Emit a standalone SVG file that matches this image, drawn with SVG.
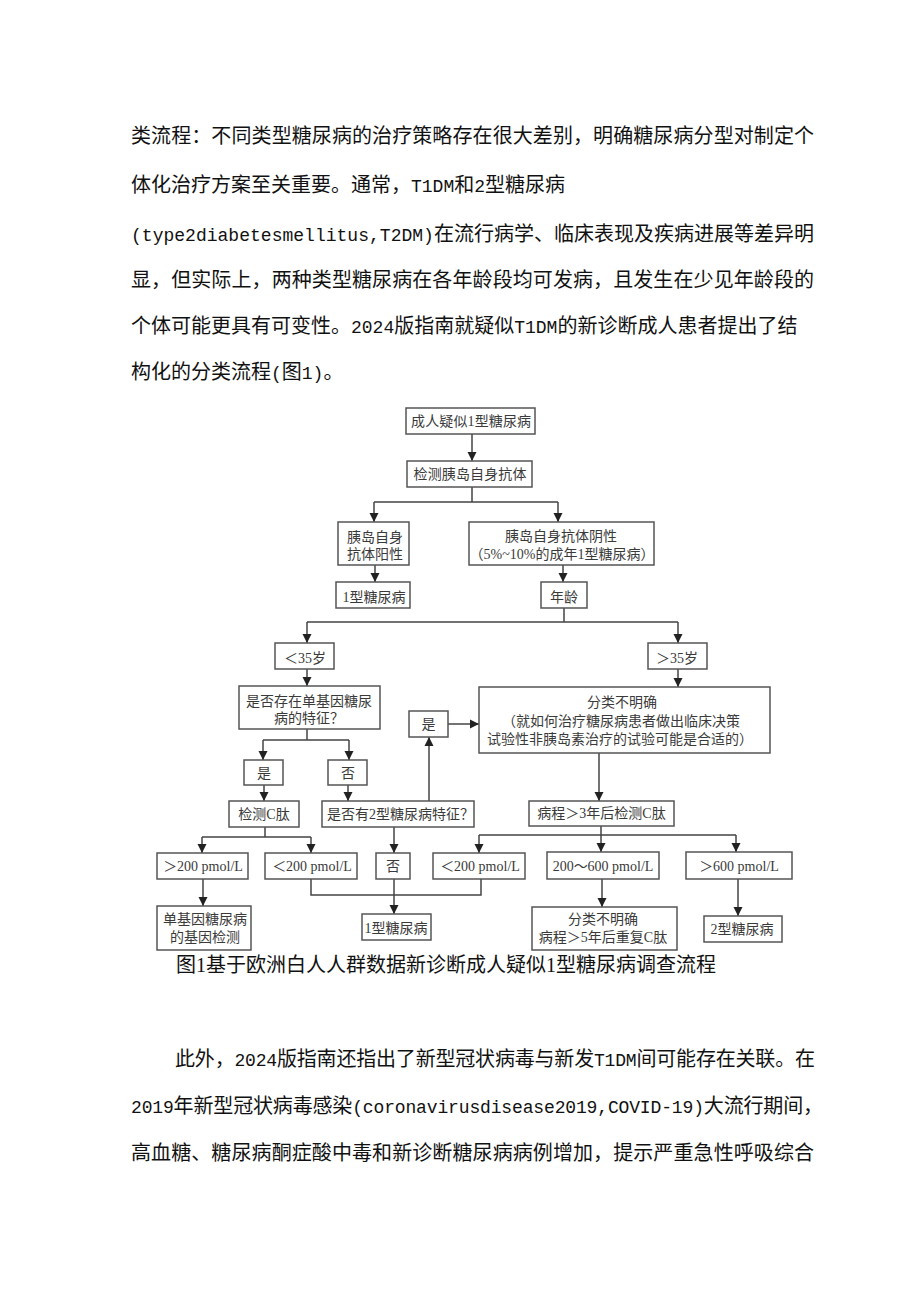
<svg xmlns="http://www.w3.org/2000/svg" width="920" height="1301" viewBox="0 0 920 1301">
<style>
.body{font-family:"Noto Sans CJK SC","Noto Sans",sans-serif;font-size:20px;fill:#111}
.a{font-family:"Liberation Mono",monospace;font-size:18px}
.cap{font-family:"Liberation Serif","Noto Sans CJK SC",serif;font-size:20px;fill:#111}
.box{fill:#fff;stroke:#555;stroke-width:1.5}
.t{font-family:"Liberation Serif","Noto Sans CJK SC",serif;font-size:14px;fill:#3a3a3a;text-anchor:middle}
.ts{font-family:"Liberation Serif","Noto Sans CJK SC",serif;font-size:14px;fill:#3a3a3a}
.c{fill:none;stroke:#444;stroke-width:1.5}
</style>
<defs>
<marker id="ah" markerWidth="10" markerHeight="10" refX="9" refY="5" orient="auto" markerUnits="userSpaceOnUse">
<path d="M0,0.5 L9,5 L0,9.5 z" fill="#222"/>
</marker>
</defs>
<rect width="920" height="1301" fill="#fff"/>

<g id="para1">
<text class="body" x="131" y="142.6" textLength="683">类流程：不同类型糖尿病的治疗策略存在很大差别，明确糖尿病分型对制定个</text>
<text class="body" x="131" y="191.6">体化治疗方案至关重要。通常，<tspan class="a">T1DM</tspan>和<tspan class="a">2</tspan>型糖尿病</text>
<text class="body" x="131" y="240.6" textLength="683"><tspan class="a">(type2diabetesmellitus,T2DM)</tspan>在流行病学、临床表现及疾病进展等差异明</text>
<text class="body" x="131" y="286.6" textLength="683">显，但实际上，两种类型糖尿病在各年龄段均可发病，且发生在少见年龄段的</text>
<text class="body" x="131" y="332.6">个体可能更具有可变性。<tspan class="a">2024</tspan>版指南就疑似<tspan class="a">T1DM</tspan>的新诊断成人患者提出了结</text>
<text class="body" x="131" y="378.6">构化的分类流程<tspan class="a">(</tspan>图<tspan class="a">1)</tspan>。</text>
</g>

<g id="connectors">
<path class="c" d="M472,434 V461" marker-end="url(#ah)"/>
<path class="c" d="M472,487 V502 M374,502 H558"/>
<path class="c" d="M374,502 V522" marker-end="url(#ah)"/>
<path class="c" d="M558,502 V522" marker-end="url(#ah)"/>
<path class="c" d="M375,565 V582" marker-end="url(#ah)"/>
<path class="c" d="M563,565 V582" marker-end="url(#ah)"/>
<path class="c" d="M564,608 V622 M307,622 H678"/>
<path class="c" d="M307,622 V643" marker-end="url(#ah)"/>
<path class="c" d="M678,622 V643" marker-end="url(#ah)"/>
<path class="c" d="M307,669 V686" marker-end="url(#ah)"/>
<path class="c" d="M678,669 V687" marker-end="url(#ah)"/>
<path class="c" d="M307,729 V740 M263,740 H349"/>
<path class="c" d="M263,740 V760" marker-end="url(#ah)"/>
<path class="c" d="M349,740 V760" marker-end="url(#ah)"/>
<path class="c" d="M264,785 V801" marker-end="url(#ah)"/>
<path class="c" d="M348,785 V801" marker-end="url(#ah)"/>
<path class="c" d="M429,801 V737" marker-end="url(#ah)"/>
<path class="c" d="M448,724 H479" marker-end="url(#ah)"/>
<path class="c" d="M599,753 V801" marker-end="url(#ah)"/>
<path class="c" d="M601,826 V835 M479,835 H736"/>
<path class="c" d="M479,835 V853" marker-end="url(#ah)"/>
<path class="c" d="M601,835 V852" marker-end="url(#ah)"/>
<path class="c" d="M736,835 V852" marker-end="url(#ah)"/>
<path class="c" d="M265,827 V837 M202,837 H311"/>
<path class="c" d="M202,837 V853" marker-end="url(#ah)"/>
<path class="c" d="M311,837 V853" marker-end="url(#ah)"/>
<path class="c" d="M394,827 V853" marker-end="url(#ah)"/>
<path class="c" d="M203,879 V906" marker-end="url(#ah)"/>
<path class="c" d="M311,879 V895 H481 V879"/>
<path class="c" d="M394,879 V914" marker-end="url(#ah)"/>
<path class="c" d="M602,879 V907" marker-end="url(#ah)"/>
<path class="c" d="M738,879 V916" marker-end="url(#ah)"/>
</g>

<g id="n-start"><rect class="box" x="406" y="408" width="129" height="26"/><text class="t" x="471" y="426" textLength="120">成人疑似1型糖尿病</text></g>
<g id="n-test"><rect class="box" x="407" y="461" width="125" height="26"/><text class="t" x="470" y="479" textLength="113">检测胰岛自身抗体</text></g>
<g id="n-pos"><rect class="box" x="338" y="522" width="71" height="43"/><text class="t" x="375" y="542">胰岛自身</text><text class="t" x="375" y="559">抗体阳性</text></g>
<g id="n-neg"><rect class="box" x="469" y="522" width="185" height="43"/><text class="t" x="561" y="541">胰岛自身抗体阴性</text><text class="t" x="562" y="559">（5%~10%的成年1型糖尿病）</text></g>
<g id="n-t1a"><rect class="box" x="336" y="582" width="74" height="26"/><text class="t" x="374" y="602">1型糖尿病</text></g>
<g id="n-age"><rect class="box" x="541" y="582" width="46" height="26"/><text class="t" x="564" y="602">年龄</text></g>
<g id="n-lt35"><rect class="box" x="275" y="643" width="59" height="26"/><text class="t" x="305" y="663">＜35岁</text></g>
<g id="n-gt35"><rect class="box" x="648" y="643" width="59" height="26"/><text class="t" x="677" y="663">＞35岁</text></g>
<g id="n-mono"><rect class="box" x="239" y="686" width="141" height="43"/><text class="t" x="309" y="706">是否存在单基因糖尿</text><text class="t" x="309" y="723">病的特征？</text></g>
<g id="n-unclear"><rect class="box" x="479" y="687" width="291" height="66"/><text class="t" x="622" y="707">分类不明确</text><text class="t" x="621" y="726">（就如何治疗糖尿病患者做出临床决策</text><text class="t" x="620" y="744">试验性非胰岛素治疗的试验可能是合适的）</text></g>
<g id="n-yes2"><rect class="box" x="409" y="711" width="39" height="26"/><text class="t" x="428.5" y="729">是</text></g>
<g id="n-yes1"><rect class="box" x="244" y="760" width="39" height="25"/><text class="t" x="264" y="778">是</text></g>
<g id="n-no1"><rect class="box" x="328" y="760" width="39" height="25"/><text class="t" x="348" y="778">否</text></g>
<g id="n-cpep1"><rect class="box" x="229" y="801" width="70" height="26"/><text class="t" x="264" y="819">检测C肽</text></g>
<g id="n-t2q"><rect class="box" x="322" y="801" width="152" height="26"/><text class="ts" x="327" y="819">是否有2型糖尿病特征？</text></g>
<g id="n-cpep2"><rect class="box" x="529" y="801" width="145" height="25"/><text class="t" x="601.5" y="818">病程＞3年后检测C肽</text></g>
<g id="n-gt200"><rect class="box" x="157" y="853" width="91" height="26"/><text class="t" x="203" y="871">＞200 pmol/L</text></g>
<g id="n-lt200a"><rect class="box" x="265" y="853" width="92" height="26"/><text class="t" x="312" y="871">＜200 pmol/L</text></g>
<g id="n-no2"><rect class="box" x="376" y="853" width="34" height="26"/><text class="t" x="393" y="871">否</text></g>
<g id="n-lt200b"><rect class="box" x="433" y="853" width="92" height="26"/><text class="t" x="480" y="871">＜200 pmol/L</text></g>
<g id="n-mid"><rect class="box" x="547" y="852" width="112" height="27"/><text class="t" x="603" y="871">200～600 pmol/L</text></g>
<g id="n-gt600"><rect class="box" x="686" y="852" width="106" height="27"/><text class="t" x="739" y="871">＞600 pmol/L</text></g>
<g id="n-gene"><rect class="box" x="157" y="906" width="94" height="44"/><text class="t" x="205" y="924">单基因糖尿病</text><text class="t" x="205" y="942">的基因检测</text></g>
<g id="n-t1b"><rect class="box" x="362" y="914" width="69" height="26"/><text class="t" x="396" y="933">1型糖尿病</text></g>
<g id="n-unclear2"><rect class="box" x="532" y="907" width="145" height="43"/><text class="t" x="603" y="924">分类不明确</text><text class="t" x="603" y="942">病程＞5年后重复C肽</text></g>
<g id="n-t2"><rect class="box" x="704" y="916" width="78" height="26"/><text class="t" x="742" y="934">2型糖尿病</text></g>

<text class="cap" x="176" y="972">图1基于欧洲白人人群数据新诊断成人疑似1型糖尿病调查流程</text>

<g id="para2">
<text class="body" x="175" y="1066" textLength="640">此外，<tspan class="a">2024</tspan>版指南还指出了新型冠状病毒与新发<tspan class="a">T1DM</tspan>间可能存在关联。在</text>
<text class="body" x="131" y="1113" textLength="692"><tspan class="a">2019</tspan>年新型冠状病毒感染<tspan class="a">(coronavirusdisease2019,COVID-19)</tspan>大流行期间，</text>
<text class="body" x="131" y="1160" textLength="683">高血糖、糖尿病酮症酸中毒和新诊断糖尿病病例增加，提示严重急性呼吸综合</text>
</g>
</svg>
